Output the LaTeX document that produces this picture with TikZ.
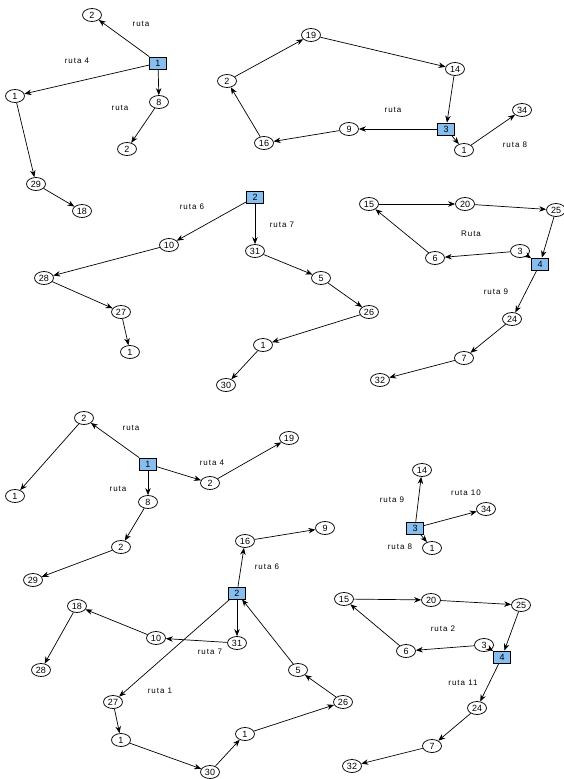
\documentclass[tikz,border=0pt]{standalone}
\usepackage{fontspec}
\setmainfont{Liberation Sans}
\newfontfamily\lblfamily[LetterSpace=12]{Liberation Sans}
\usetikzlibrary{shapes.geometric,arrows.meta}
\definecolor{depblue}{RGB}{135,190,240}
\tikzset{
  cli/.style={draw, ellipse, line width=0.75pt, minimum width=19pt, minimum height=13pt,
              inner sep=0.5pt, font=\fontsize{9}{9}\selectfont, fill=white},
  dep/.style={draw, rectangle, fill=depblue, line width=0.75pt, minimum width=17pt,
              minimum height=12pt, inner sep=0pt, font=\fontsize{9}{9}\selectfont},
  lbl/.style={inner sep=0pt, font=\lblfamily\fontsize{8}{9}\selectfont},
  arc/.style={-{Stealth[length=7pt,width=5.5pt]}, line width=0.7pt},
}
\begin{document}
\begin{tikzpicture}[x=1pt,y=-1pt]
\useasboundingbox[fill=white] (0,0) rectangle (564,779);

% ---- depot 1, upper ----
\node[dep] (a0) at (158,63) {1};
\node[cli] (a1) at (92,15) {2};
\node[cli] (a2) at (15,96) {1};
\node[cli] (a3) at (159,102) {8};
\node[cli] (a4) at (127,149) {2};
\node[cli] (a5) at (36,184) {29};
\node[cli] (a6) at (82,211) {18};
\node[lbl] (la1) at (141,24) {ruta};
\node[lbl] (la2) at (77,61) {ruta 4};
\node[lbl] (la3) at (120,108) {ruta};
\draw[arc] (a0) -- (a1);
\draw[arc] (a0) -- (a2);
\draw[arc] (a0) -- (a3);
\draw[arc] (a3) -- (a4);
\draw[arc] (a2) -- (a5);
\draw[arc] (a5) -- (a6);

% ---- depot 3, upper ----
\node[dep] (b0) at (446,129) {3};
\node[cli] (b1) at (311,35) {19};
\node[cli] (b2) at (455,69) {14};
\node[cli] (b3) at (227,81) {2};
\node[cli] (b4) at (264,143) {16};
\node[cli] (b5) at (349,129) {9};
\node[cli] (b6) at (464,150) {1};
\node[cli] (b7) at (522,110) {34};
\node[lbl] (lb1) at (393,110) {ruta};
\node[lbl] (lb2) at (515,145) {ruta 8};
\draw[arc] (b3) -- (b1);
\draw[arc] (b1) -- (b2);
\draw[arc] (b2) -- (b0);
\draw[arc] (b0) -- (b5);
\draw[arc] (b5) -- (b4);
\draw[arc] (b4) -- (b3);
\draw[arc] (b0) -- (b6);
\draw[arc] (b6) -- (b7);

% ---- depot 2, upper ----
\node[dep] (c0) at (255,197) {2};
\node[cli] (c1) at (169,245) {10};
\node[cli] (c2) at (255,251) {31};
\node[cli] (c3) at (44,278) {28};
\node[cli] (c4) at (321,278) {5};
\node[cli] (c5) at (121,312) {27};
\node[cli] (c6) at (369,312) {26};
\node[cli] (c7) at (130,352) {1};
\node[cli] (c8) at (263,345) {1};
\node[cli] (c9) at (226,385) {30};
\node[lbl] (lc1) at (192,207) {ruta 6};
\node[lbl] (lc2) at (282,225) {ruta 7};
\draw[arc] (c0) -- (c1);
\draw[arc] (c1) -- (c3);
\draw[arc] (c3) -- (c5);
\draw[arc] (c5) -- (c7);
\draw[arc] (c0) -- (c2);
\draw[arc] (c2) -- (c4);
\draw[arc] (c4) -- (c6);
\draw[arc] (c6) -- (c8);
\draw[arc] (c8) -- (c9);

% ---- depot 4, upper ----
\node[dep] (d0) at (540,264) {4};
\node[cli] (d1) at (369,204) {15};
\node[cli] (d2) at (465,204) {20};
\node[cli] (d3) at (556,210) {25};
\node[cli] (d4) at (520,251) {3};
\node[cli] (d5) at (435,258) {6};
\node[cli] (d6) at (512,319) {24};
\node[cli] (d7) at (464,358) {7};
\node[cli] (d8) at (380,380) {32};
\node[lbl] (ld1) at (471,234) {Ruta};
\node[lbl] (ld2) at (496,292) {ruta 9};
\draw[arc] (d1) -- (d2);
\draw[arc] (d2) -- (d3);
\draw[arc] (d3) -- (d0);
\draw[arc] (d4) -- (d0);
\draw[arc] (d4) -- (d5);
\draw[arc] (d5) -- (d1);
\draw[arc] (d0) -- (d6);
\draw[arc] (d6) -- (d7);
\draw[arc] (d7) -- (d8);

% ---- depot 1, lower ----
\node[dep] (e0) at (148,464) {1};
\node[cli] (e1) at (84,418) {2};
\node[cli] (e2) at (289,438) {19};
\node[cli] (e3) at (210,483) {2};
\node[cli] (e4) at (15,496) {1};
\node[cli] (e5) at (148,502) {8};
\node[cli] (e6) at (121,547) {2};
\node[cli] (e7) at (33,580) {29};
\node[lbl] (le1) at (131,428) {ruta};
\node[lbl] (le2) at (212,463) {ruta 4};
\node[lbl] (le3) at (118,489) {ruta};
\draw[arc] (e0) -- (e1);
\draw[arc] (e1) -- (e4);
\draw[arc] (e0) -- (e3);
\draw[arc] (e3) -- (e2);
\draw[arc] (e0) -- (e5);
\draw[arc] (e5) -- (e6);
\draw[arc] (e6) -- (e7);

% ---- depot 2, lower ----
\node[dep] (f0) at (237,593) {2};
\node[cli] (f1) at (245,541) {16};
\node[cli] (f2) at (325,528) {9};
\node[cli] (f3) at (77,606) {18};
\node[cli] (f4) at (156,638) {10};
\node[cli] (f5) at (237,643) {31};
\node[cli] (f6) at (41,670) {28};
\node[cli] (f7) at (298,670) {5};
\node[cli] (f8) at (113,702) {27};
\node[cli] (f9) at (343,702) {26};
\node[cli] (f10) at (121,740) {1};
\node[cli] (f11) at (245,734) {1};
\node[cli] (f12) at (210,772) {30};
\node[lbl] (lf1) at (267,567) {ruta 6};
\node[lbl] (lf2) at (210,652) {ruta 7};
\node[lbl] (lf3) at (160,691) {ruta 1};
\draw[arc] (f0) -- (f1);
\draw[arc] (f1) -- (f2);
\draw[arc] (f0) -- (f5);
\draw[arc] (f5) -- (f4);
\draw[arc] (f4) -- (f3);
\draw[arc] (f3) -- (f6);
\draw[arc] (f0) -- (f8);
\draw[arc] (f8) -- (f10);
\draw[arc] (f10) -- (f12);
\draw[arc] (f12) -- (f11);
\draw[arc] (f11) -- (f9);
\draw[arc] (f9) -- (f7);
\draw[arc] (f7) -- (f0);

% ---- depot 3, lower ----
\node[dep] (g0) at (415,528) {3};
\node[cli] (g1) at (422,470) {14};
\node[cli] (g2) at (486,509) {34};
\node[cli] (g3) at (432,548) {1};
\node[lbl] (lg1) at (392,500) {ruta 9};
\node[lbl] (lg2) at (466,493) {ruta 10};
\node[lbl] (lg3) at (400,547) {ruta 8};
\draw[arc] (g0) -- (g1);
\draw[arc] (g0) -- (g2);
\draw[arc] (g0) -- (g3);

% ---- depot 4, lower ----
\node[dep] (h0) at (502,657) {4};
\node[cli] (h1) at (344,599) {15};
\node[cli] (h2) at (431,600) {20};
\node[cli] (h3) at (521,605) {25};
\node[cli] (h4) at (484,645) {3};
\node[cli] (h5) at (406,651) {6};
\node[cli] (h6) at (477,708) {24};
\node[cli] (h7) at (432,746) {7};
\node[cli] (h8) at (352,766) {32};
\node[lbl] (lh1) at (443,629) {ruta 2};
\node[lbl] (lh2) at (463,683) {ruta 11};
\draw[arc] (h1) -- (h2);
\draw[arc] (h2) -- (h3);
\draw[arc] (h3) -- (h0);
\draw[arc] (h4) -- (h0);
\draw[arc] (h4) -- (h5);
\draw[arc] (h5) -- (h1);
\draw[arc] (h0) -- (h6);
\draw[arc] (h6) -- (h7);
\draw[arc] (h7) -- (h8);
\end{tikzpicture}
\end{document}
